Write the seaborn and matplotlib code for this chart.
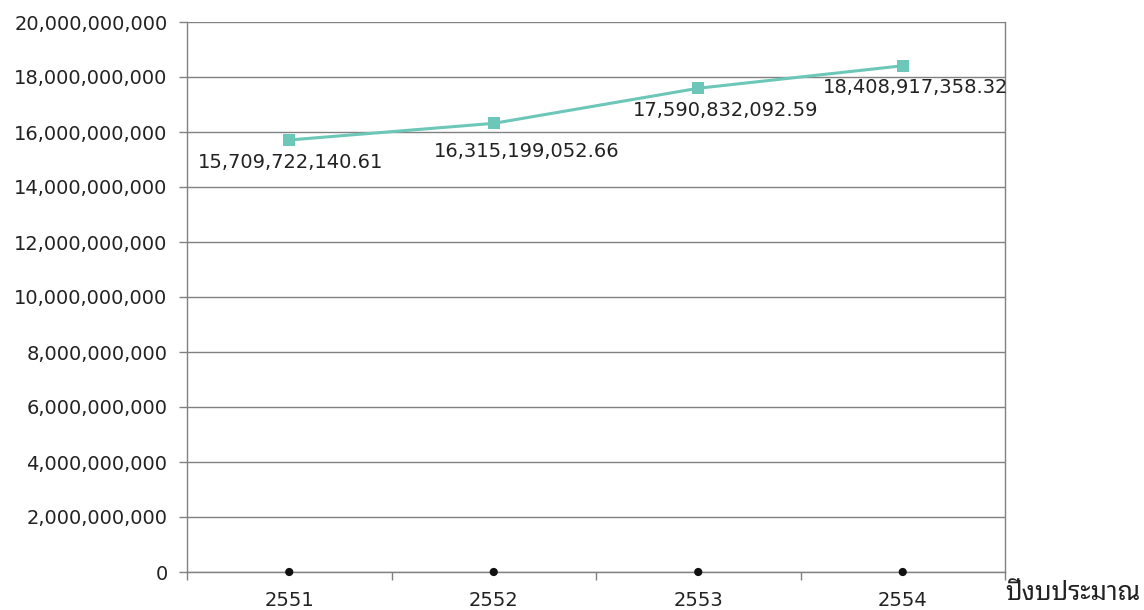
import matplotlib
matplotlib.use('Agg')
import matplotlib.pyplot as plt
import matplotlib.ticker as mticker
import seaborn as sns
import pandas as pd

# budget per fiscal year (Thai Buddhist calendar)
years = ['2551', '2552', '2553', '2554']
budget = [15709722140.61, 16315199052.66, 17590832092.59, 18408917358.32]
baseline = [0, 0, 0, 0]
budget_labels = ['15,709,722,140.61', '16,315,199,052.66', '17,590,832,092.59', '18,408,917,358.32']
y_ticks = [0, 2e9, 4e9, 6e9, 8e9, 10e9, 12e9, 14e9, 16e9, 18e9, 20e9]
x_title = 'ปีงบประมาณ'

# label offsets in points (dx, dy) relative to each marker
label_offsets = [(1, -16), (24, -20), (20, -16), (9, -16)]

sns.set_theme(style='white')
plt.rcParams['font.family'] = ['DejaVu Sans', 'Noto Sans Thai Looped']

text_color = '#222222'
grid_color = '#808080'
line_color = '#6cc7b8'

fig = plt.figure(figsize=(11.44, 6.10), dpi=100)
ax = fig.add_axes([187 / 1144, 38 / 610, 818 / 1144, 550 / 610])

df = pd.DataFrame({'year': years, 'budget': budget, 'base': baseline})

sns.lineplot(data=df, x='year', y='budget', ax=ax, color=line_color, marker='s',
             markersize=8, markeredgewidth=0, linewidth=2.2, zorder=3)
sns.scatterplot(data=df, x='year', y='base', ax=ax, color='#111111', s=35,
                edgecolor='none', zorder=4, clip_on=False)

for i, (lab, off) in enumerate(zip(budget_labels, label_offsets)):
    ax.annotate(lab, xy=(i, budget[i]), xytext=off, textcoords='offset points',
                ha='center', va='center', fontsize=14, color=text_color)

ax.set_xlim(-0.5, len(years) - 0.5)
ax.set_ylim(y_ticks[0], y_ticks[-1])
ax.set_yticks(y_ticks)
ax.yaxis.set_major_formatter(mticker.FuncFormatter(lambda v, p: f'{v:,.0f}'))

# category boundaries carry the tick marks, labels sit at the centres
ax.set_xticks([i - 0.5 for i in range(len(years) + 1)])
ax.set_xticklabels([])
ax.set_xticks(range(len(years)), minor=True)
ax.set_xticklabels(years, minor=True)
ax.tick_params(axis='x', which='major', direction='out', length=6, width=1, color=grid_color, bottom=True)
ax.tick_params(axis='x', which='minor', length=0, pad=14, labelsize=14, labelcolor=text_color)
ax.tick_params(axis='y', direction='out', length=6, width=1, color=grid_color, left=True,
               labelsize=14, labelcolor=text_color, pad=8)

ax.grid(axis='y', color=grid_color, linewidth=1)
ax.set_axisbelow(True)
for side in ['left', 'bottom', 'right']:
    ax.spines[side].set_color(grid_color)
    ax.spines[side].set_linewidth(1)
ax.spines['top'].set_visible(False)

ax.set_xlabel('')
ax.set_ylabel('')
fig.text(1005 / 1144, 1 - 593 / 610, x_title, ha='left', va='center', fontsize=18.5,
         color=text_color, family=['Noto Sans Thai Looped', 'DejaVu Sans'])

fig.savefig('out.png', dpi=100)
